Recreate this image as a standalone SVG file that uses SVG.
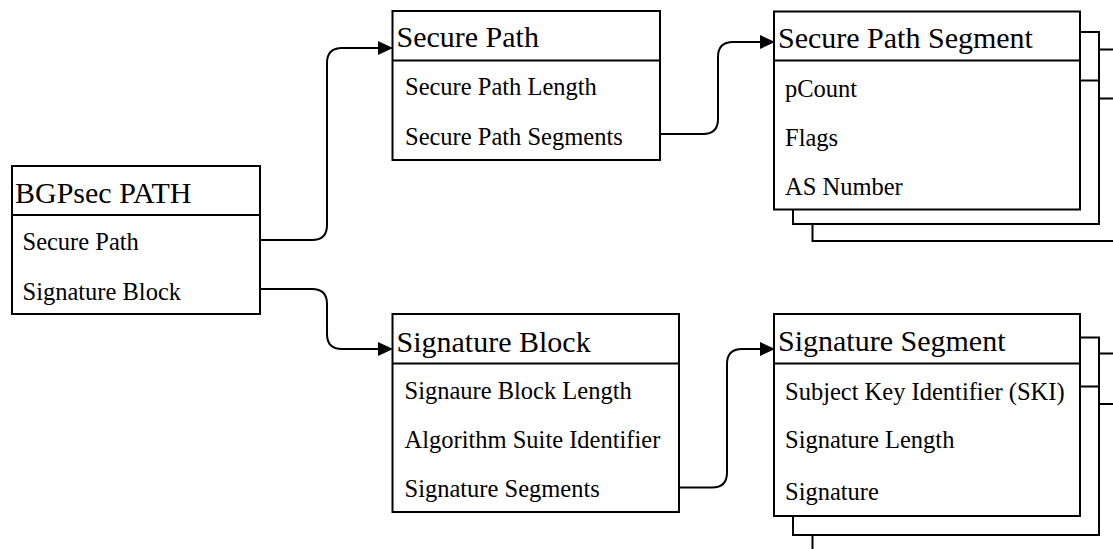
<svg xmlns="http://www.w3.org/2000/svg" width="1113" height="549" viewBox="0 0 1113 549">
  <style>
    .box { fill: #ffffff; stroke: #000000; stroke-width: 2; }
    .sep { stroke: #000000; stroke-width: 2; fill: none; }
    .title { font-family: "Liberation Serif", "Times New Roman", serif; font-size: 30px; fill: #000000; }
    .item { font-family: "Liberation Serif", "Times New Roman", serif; font-size: 24.5px; fill: #000000; }
    .edge { fill: none; stroke: #000000; stroke-width: 2; }
  </style>
  <defs>
    <marker id="arrow" markerUnits="userSpaceOnUse" markerWidth="16" markerHeight="14" viewBox="0 0 16 14" refX="1" refY="7" orient="auto">
      <path d="M0,0 L15,7 L0,14 Z" fill="#000000"/>
    </marker>
  </defs>

  <rect width="1113" height="549" fill="#ffffff"/>

  <!-- connectors -->
  <g id="connectors">
    <path class="edge" d="M260,240 H312 Q327,240 327,225 V63 Q327,48 342,48 H379" marker-end="url(#arrow)"/>
    <path class="edge" d="M260,289 H312 Q327,289 327,304 V334 Q327,349 342,349 H379" marker-end="url(#arrow)"/>
    <path class="edge" d="M660,134 H703 Q718,134 718,119 V57 Q718,42 733,42 H761" marker-end="url(#arrow)"/>
    <path class="edge" d="M679,487.5 H712 Q727,487.5 727,472.5 V364 Q727,349 742,349 H761" marker-end="url(#arrow)"/>
  </g>

  <!-- BGPsec PATH -->
  <g id="bgpsec-path">
    <rect class="box" x="12" y="166" width="248" height="148"/>
    <line class="sep" x1="12" y1="215" x2="260" y2="215"/>
    <text class="title" x="15" y="203">BGPsec PATH</text>
    <text class="item" x="22.5" y="250">Secure Path</text>
    <text class="item" x="22.5" y="299.5">Signature Block</text>
  </g>

  <!-- Secure Path -->
  <g id="secure-path">
    <rect class="box" x="392.5" y="11" width="267.5" height="149"/>
    <line class="sep" x1="392.5" y1="60.5" x2="660" y2="60.5"/>
    <text class="title" x="396.5" y="47">Secure Path</text>
    <text class="item" x="405" y="95">Secure Path Length</text>
    <text class="item" x="405" y="145">Secure Path Segments</text>
  </g>

  <!-- Signature Block -->
  <g id="signature-block">
    <rect class="box" x="392.5" y="314" width="286.5" height="198"/>
    <line class="sep" x1="392.5" y1="363.5" x2="679" y2="363.5"/>
    <text class="title" x="396.5" y="351.5">Signature Block</text>
    <text class="item" x="404.5" y="399">Signaure Block Length</text>
    <text class="item" x="404.5" y="448">Algorithm Suite Identifier</text>
    <text class="item" x="404.5" y="497">Signature Segments</text>
  </g>

  <!-- Secure Path Segment (stacked) -->
  <g id="secure-path-segment">
    <rect class="box" x="812.5" y="49.5" width="320" height="191.5"/>
    <line class="sep" x1="812.5" y1="98.5" x2="1132.5" y2="98.5"/>
    <rect class="box" x="793" y="32" width="306" height="192"/>
    <line class="sep" x1="793" y1="80.5" x2="1099" y2="80.5"/>
    <rect class="box" x="774" y="11.5" width="306" height="198"/>
    <line class="sep" x1="774" y1="60.5" x2="1080" y2="60.5"/>
    <text class="title" x="778" y="47.5">Secure Path Segment</text>
    <text class="item" x="785" y="96.5">pCount</text>
    <text class="item" x="785" y="146">Flags</text>
    <text class="item" x="785" y="195">AS Number</text>
  </g>

  <!-- Signature Segment (stacked) -->
  <g id="signature-segment">
    <rect class="box" x="812.5" y="353.5" width="320" height="220"/>
    <line class="sep" x1="812.5" y1="404" x2="1132.5" y2="404"/>
    <rect class="box" x="793" y="337.5" width="306" height="197.5"/>
    <line class="sep" x1="793" y1="386.5" x2="1099" y2="386.5"/>
    <rect class="box" x="774" y="314" width="306" height="202"/>
    <line class="sep" x1="774" y1="363.5" x2="1080" y2="363.5"/>
    <text class="title" x="778" y="350.5">Signature Segment</text>
    <text class="item" x="785" y="400">Subject Key Identifier (SKI)</text>
    <text class="item" x="785" y="448">Signature Length</text>
    <text class="item" x="785" y="500">Signature</text>
  </g>
</svg>
